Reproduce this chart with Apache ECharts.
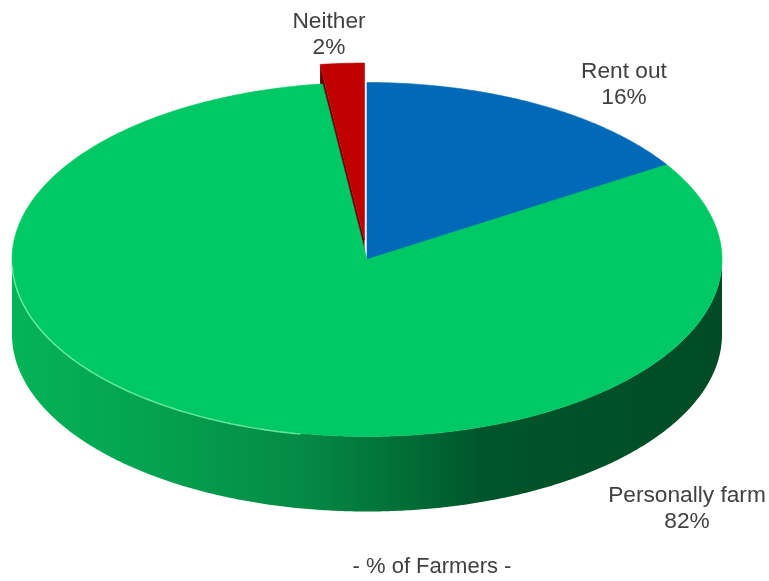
<!DOCTYPE html>
<html>
<head>
<meta charset="utf-8">
<script src="https://cdn.jsdelivr.net/npm/echarts@6.0.0/dist/echarts.min.js"></script>
<style>
  html, body { margin: 0; padding: 0; background: #ffffff; }
  #chart { width: 769px; height: 581px; }
</style>
</head>
<body>
<div id="chart"></div>
<script>
// Share of farmers by what they do with their land (clockwise from 12 o'clock)
const categories = ['Rent out', 'Personally farm', 'Neither'];
const values = [16, 82, 2];
const chartTitle = '- % of Farmers -';

// Styling
const topColors = ['#0069b8', '#00c864', '#c00000'];
const sideColors = ['#003d6b', null, '#6a0000'];
const explode = [0, 0, 0.11];               // radial pull-out, fraction of radius
const labelCenters = [[624, 85], [687, 509], [329, 35]];
const FONT = '"Liberation Sans", Arial, sans-serif';

// Pie geometry (tilted disc)
const CX = 367, CY = 259.5, RX = 355, RY = 177, DEPTH = 75;

const total = values.reduce((a, b) => a + b, 0);
const sliceData = [];
let acc = 0;
values.forEach((v, i) => {
  sliceData.push({ name: categories[i], value: [acc, v] });
  acc += v;
});

// Green side wall shading, dark towards the right
const wallGradient = {
  type: 'linear', global: true,
  x: CX - RX, y: 0, x2: CX + RX, y2: 0,
  colorStops: [
    { offset: 0.00, color: '#05b357' },
    { offset: 0.20, color: '#04a250' },
    { offset: 0.41, color: '#058a45' },
    { offset: 0.57, color: '#016a35' },
    { offset: 0.66, color: '#00552a' },
    { offset: 1.00, color: '#004b25' }
  ]
};

function sliceGeom(api, idx) {
  const start = api.value(0), v = api.value(1);
  const a0 = start / total * Math.PI * 2;
  const a1 = (start + v) / total * Math.PI * 2;
  const mid = (a0 + a1) / 2;
  const e = explode[idx] || 0;
  return {
    a0, a1,
    ox: CX + e * RX * Math.sin(mid),
    oy: CY - e * RY * Math.cos(mid)
  };
}

function rimPoint(g, a, dy) {
  return [g.ox + RX * Math.sin(a), g.oy - RY * Math.cos(a) + (dy || 0)];
}

function arcPoints(g, from, to, dy) {
  const n = Math.max(2, Math.ceil(Math.abs(to - from) / (Math.PI / 360)));
  const pts = [];
  for (let k = 0; k <= n; k++) {
    pts.push(rimPoint(g, from + (to - from) * k / n, dy));
  }
  return pts;
}

// Cut faces and the visible part of the outer wall
function renderSides(params, api) {
  const i = params.dataIndex;
  const g = sliceGeom(api, i);
  const children = [];
  const cutColor = sideColors[i] || '#005a2c';

  if (Math.sin(g.a0) < -1e-6) {
    const r0 = rimPoint(g, g.a0);
    children.push({
      type: 'polygon',
      shape: { points: [[g.ox, g.oy], r0, [r0[0], r0[1] + DEPTH], [g.ox, g.oy + DEPTH]] },
      style: { fill: cutColor }
    });
  }
  if (Math.sin(g.a1) > 1e-6) {
    const r1 = rimPoint(g, g.a1);
    children.push({
      type: 'polygon',
      shape: { points: [[g.ox, g.oy], r1, [r1[0], r1[1] + DEPTH], [g.ox, g.oy + DEPTH]] },
      style: { fill: cutColor }
    });
  }
  const s = Math.max(g.a0, Math.PI / 2);
  const e = Math.min(g.a1, Math.PI * 1.5);
  if (s < e) {
    const pts = arcPoints(g, s, e, 0).concat(arcPoints(g, e, s, DEPTH));
    children.push({
      type: 'polygon',
      shape: { points: pts },
      style: { fill: i === 1 ? wallGradient : (sideColors[i] || '#333') }
    });
  }
  return { type: 'group', children };
}

// Top faces, rim highlight and labels
function renderTops(params, api) {
  const i = params.dataIndex;
  const g = sliceGeom(api, i);
  const pts = [[g.ox, g.oy]].concat(arcPoints(g, g.a0, g.a1, 0));
  const children = [{
    type: 'polygon',
    shape: { points: pts },
    style: { fill: topColors[i], stroke: topColors[i], lineWidth: 0.6 }
  }];

  const hs = Math.max(g.a0, Math.PI * 1.06);
  const he = Math.min(g.a1, Math.PI * 1.49);
  if (hs < he) {
    children.push({
      type: 'polyline',
      shape: { points: arcPoints(g, hs, he, 0.8) },
      style: { stroke: 'rgba(130,255,180,0.75)', lineWidth: 1.4, fill: null }
    });
  }

  const pct = Math.round(api.value(1) / total * 100);
  const c = labelCenters[i];
  children.push({
    type: 'text',
    style: {
      text: categories[i] + '\n' + pct + '%',
      x: c[0], y: c[1],
      align: 'center', verticalAlign: 'middle',
      fontSize: 22.7, fontFamily: FONT, lineHeight: 26,
      fill: '#404040'
    }
  });
  return { type: 'group', children };
}

const chart = echarts.init(document.getElementById('chart'), null, { renderer: 'canvas' });
chart.setOption({
  animation: false,
  backgroundColor: '#ffffff',
  series: [
    { type: 'custom', coordinateSystem: 'none', z: 1, silent: true,
      data: sliceData, renderItem: renderSides },
    { type: 'custom', coordinateSystem: 'none', z: 2, silent: true,
      data: sliceData, renderItem: renderTops }
  ],
  graphic: [{
    type: 'text', x: 432, y: 567,
    style: {
      text: chartTitle, align: 'center', verticalAlign: 'middle',
      fontSize: 22, fontFamily: FONT, fill: '#404040'
    }
  }]
});
</script>
</body>
</html>
